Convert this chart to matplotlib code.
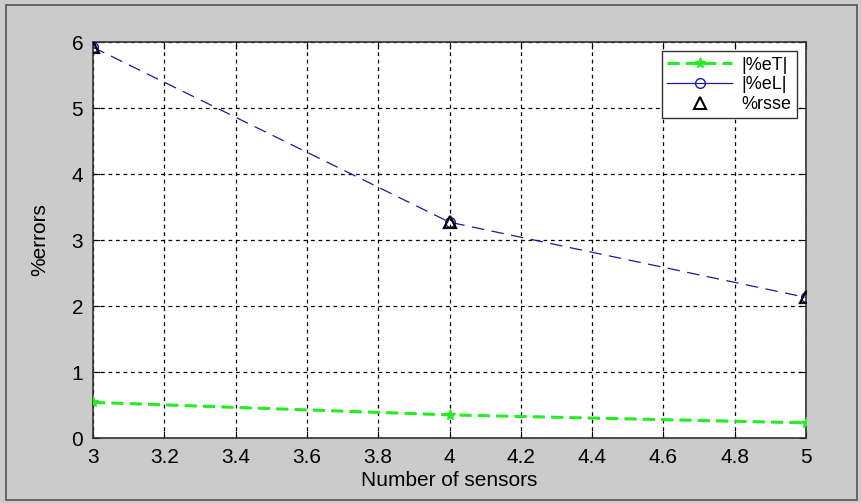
import matplotlib.pyplot as plt
from matplotlib.lines import Line2D
from matplotlib.patches import Rectangle

# === Datos ===
sensores = [3, 4, 5]
error_T = [0.54, 0.35, 0.23]
error_L = [5.92, 3.27, 2.13]
rsse = [5.92, 3.27, 2.13]
xticks = [3, 3.2, 3.4, 3.6, 3.8, 4, 4.2, 4.4, 4.6, 4.8, 5]
yticks = [0, 1, 2, 3, 4, 5, 6]

plt.rcParams['font.family'] = ['Liberation Sans', 'DejaVu Sans']

fig = plt.figure(figsize=(8.61, 5.03), dpi=100, facecolor='#cbcbcb')
fig.patches.append(Rectangle((6/861, 3/503), 851/861, 495/503, transform=fig.transFigure,
                             fill=False, edgecolor='#555555', linewidth=1.2))
ax = fig.add_axes([93/861, 1 - 438/503, 713/861, 396/503])

ax.plot(sensores, error_T, color='#22ee22', linestyle=(0, (4, 2)), linewidth=2.2,
        marker='*', markersize=8, zorder=3)
ax.plot(sensores, error_L, color='#1a1aa0', linestyle=(0, (10, 6)), linewidth=0.9,
        marker='o', markersize=7, markerfacecolor='none', zorder=3)
ax.plot(sensores, rsse, linestyle='none', marker='^', markersize=9, color='black',
        markerfacecolor='none', markeredgewidth=1.6, zorder=4)

ax.set_xlim(3, 5)
ax.set_ylim(0, 6)
ax.set_xticks(xticks)
ax.set_xticklabels([f"{t:g}" for t in xticks])
ax.set_yticks(yticks)
ax.tick_params(direction='in', top=True, right=True, labelsize=15, length=5, pad=7)
ax.grid(True, color='black', linestyle=(0, (3, 3)), linewidth=0.9)
for s in ax.spines.values():
    s.set_color('#333333')
    s.set_linewidth(1.2)

ax.set_xlabel("Number of sensors", fontsize=15, labelpad=3)
ax.set_ylabel("%errors", fontsize=15, labelpad=16)

manejadores = [
    Line2D([], [], color='#22ee22', linestyle=(0, (4, 2)), linewidth=2.2, marker='*', markersize=8),
    Line2D([], [], color='#1a1aa0', linewidth=0.9, marker='o', markersize=7, markerfacecolor='none'),
    Line2D([], [], linestyle='none', marker='^', markersize=8, color='black',
           markerfacecolor='none', markeredgewidth=1.5),
]
leg = ax.legend(manejadores, ['|%eT|', '|%eL|', '%rsse'], loc='upper right',
                bbox_to_anchor=(0.987, 0.977), borderaxespad=0, fontsize=13, fancybox=False,
                framealpha=1, edgecolor='#333333', handlelength=3.6, handletextpad=0.5,
                borderpad=0.3, labelspacing=0.15)
leg.get_frame().set_linewidth(1.0)

fig.savefig("out.png", dpi=100, facecolor=fig.get_facecolor())
